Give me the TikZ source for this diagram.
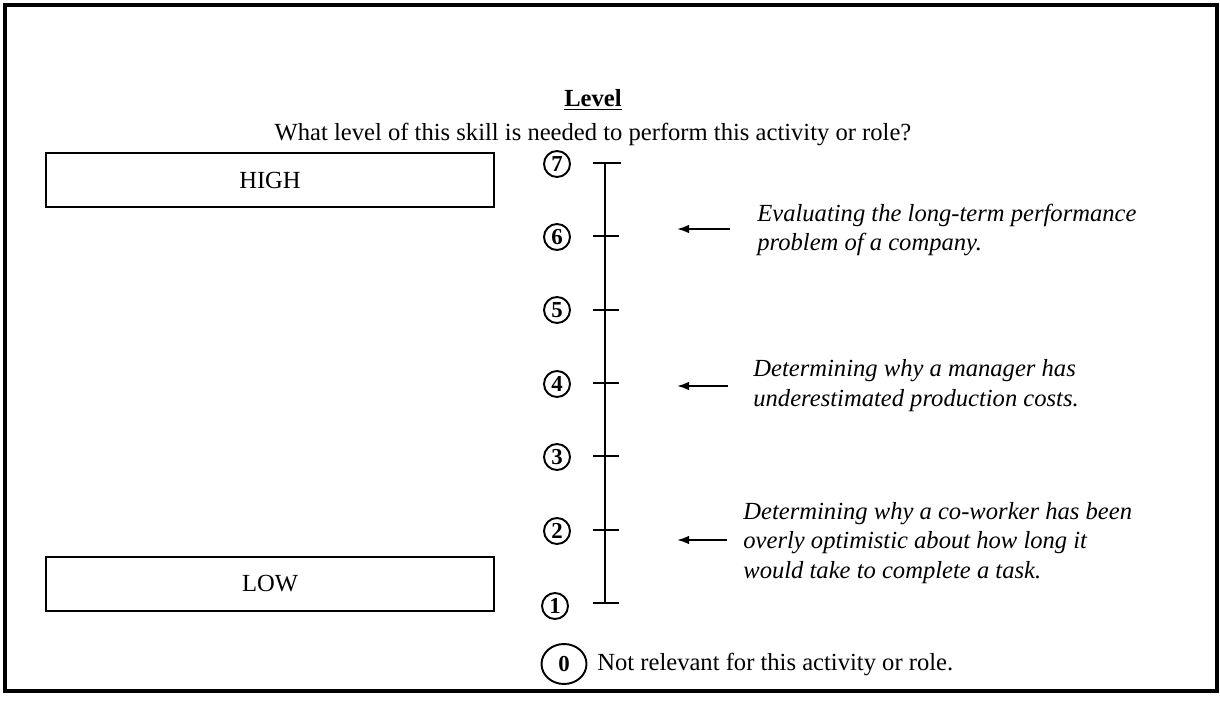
\documentclass[tikz,border=0pt]{standalone}
\usepackage{fontspec}
\setmainfont{Liberation Serif}
\usepackage{tikz}
\usetikzlibrary{shapes, arrows.meta, positioning}

\begin{document}
\begin{tikzpicture}
  [
    x=0.02cm, y=-0.02cm,
    Frame/.style={draw=black, line width=2.2pt},
    Box/.style={rectangle, draw=black, line width=1.1pt, minimum width=8.96cm, minimum height=1.08cm, font=\fontsize{14}{17}\selectfont},
    Num/.style={circle, draw=black, line width=1.1pt, inner sep=0pt, minimum size=0.52cm, font=\fontsize{13}{15}\selectfont\bfseries},
    Zero/.style={ellipse, draw=black, line width=1.1pt, inner sep=0pt, minimum width=0.9cm, minimum height=0.8cm, font=\fontsize{13}{15}\selectfont\bfseries},
    Note/.style={anchor=west, align=left, inner sep=0pt, font=\fontsize{14}{17}\selectfont\itshape},
    Plain/.style={inner sep=0pt, font=\fontsize{14}{17}\selectfont},
    Tick/.style={line width=1.2pt},
    Arrow/.style={line width=1.1pt, -{Latex[length=2.4mm, width=1.7mm]}}
  ]
  \useasboundingbox (0,0) rectangle (1220,702);
  \draw[Frame] (5,5) rectangle (1217,691);

  % Title
  \node[Plain, font=\fontsize{14}{17}\selectfont\bfseries] (title) at(593, 100) {\underline{Level}};
  \node[Plain] (question) at(593, 134) {What level of this skill is needed to perform this activity or role?};

  % Boxes
  \node[Box] (high) at(270, 180) {HIGH};
  \node[Box] (low) at(270, 584) {LOW};

  % Scale
  \coordinate (t7) at(605, 163);
  \coordinate (t6) at(605, 236);
  \coordinate (t5) at(605, 310);
  \coordinate (t4) at(605, 383);
  \coordinate (t3) at(605, 456);
  \coordinate (t2) at(605, 530);
  \coordinate (t1) at(605, 603);
  \draw[Tick] (t7) -- (t1);
  \draw[Tick] (t7) ++(-12,0) -- ++(28,0);
  \draw[Tick] (t6) ++(-12,0) -- ++(26,0);
  \draw[Tick] (t5) ++(-12,0) -- ++(26,0);
  \draw[Tick] (t4) ++(-12,0) -- ++(26,0);
  \draw[Tick] (t3) ++(-12,0) -- ++(26,0);
  \draw[Tick] (t2) ++(-12,0) -- ++(26,0);
  \draw[Tick] (t1) ++(-12,0) -- ++(26,0);

  % Nodes
  \node[Num] (n7) at(557, 164) {7};
  \node[Num] (n6) at(557, 237) {6};
  \node[Num] (n5) at(557, 310) {5};
  \node[Num] (n4) at(557, 384) {4};
  \node[Num] (n3) at(557, 457) {3};
  \node[Num] (n2) at(557, 531) {2};
  \node[Num] (n1) at(555, 606) {1};
  \node[Zero] (n0) at(564, 664) {0};
  \node[Plain, anchor=west] (zero) at(597, 664) {Not relevant for this activity or role.};

  % Examples
  \node[Note] (ex6) at(757, 230) {Evaluating the long-term performance\\problem of a company.};
  \node[Note] (ex4) at(753, 386) {Determining why a manager has\\underestimated production costs.};
  \node[Note] (ex2) at(743, 543) {Determining why a co-worker has been\\overly optimistic about how long it\\would take to complete a task.};

  \coordinate (s6) at(730, 229);
  \coordinate (e6) at(677, 229);
  \coordinate (s4) at(728, 386);
  \coordinate (e4) at(677, 386);
  \coordinate (s2) at(727, 540);
  \coordinate (e2) at(677, 540);
  \draw[Arrow] (s6) -- (e6);
  \draw[Arrow] (s4) -- (e4);
  \draw[Arrow] (s2) -- (e2);

\end{tikzpicture}
\end{document}
